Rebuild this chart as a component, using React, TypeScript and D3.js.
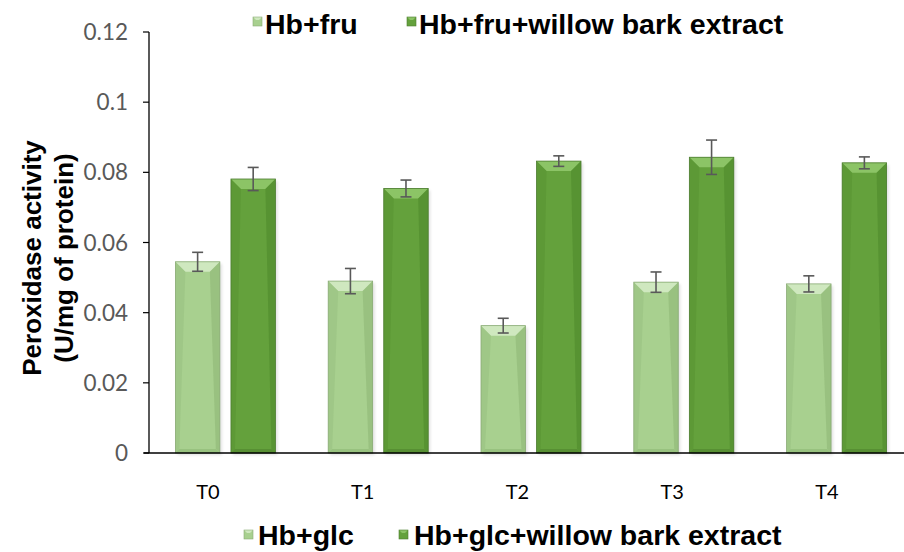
import React from "react";
import * as d3 from "d3";

const categories = ["T0", "T1", "T2", "T3", "T4"];
const seriesNames = ["Hb+glc", "Hb+glc+willow bark extract"];
const topLegendNames = ["Hb+fru", "Hb+fru+willow bark extract"];
const lightValues = [0.0545, 0.049, 0.0363, 0.0487, 0.0482];
const lightErrors = [0.0027, 0.0036, 0.0021, 0.0029, 0.0023];
const darkValues = [0.0781, 0.0754, 0.0832, 0.0843, 0.0827];
const darkErrors = [0.0033, 0.0024, 0.0015, 0.0049, 0.0017];
const yTicks = [0, 0.02, 0.04, 0.06, 0.08, 0.1, 0.12];
const yTickLabels = ["0", "0.02", "0.04", "0.06", "0.08", "0.1", "0.12"];

const W = 904;
const H = 552;

const palettes = [
  { base: "#a8d08f", top: "#cfe8bf", side: "#8fb877", bottom: "#98c27f", edge: "#8aab76" },
  { base: "#64a13c", top: "#8cc466", side: "#4f8a2c", bottom: "#578f33", edge: "#4d7d31" },
];

function Bar({ x, y, w, h, p }: { x: number; y: number; w: number; h: number; p: typeof palettes[0] }) {
  const b = Math.min(10, h / 2);
  const bs = 4;
  return (
    <g>
      <rect x={x + 2} y={y + 2} width={w} height={h} fill="#000" opacity={0.12} filter="url(#blur)" />
      <rect x={x} y={y} width={w} height={h} fill={p.base} />
      <polygon points={`${x},${y} ${x + w},${y} ${x + w - b},${y + b} ${x + b},${y + b}`} fill={p.top} />
      <polygon points={`${x},${y} ${x + b},${y + b} ${x + bs},${y + h - bs} ${x},${y + h}`} fill={p.side} opacity={0.35} />
      <polygon points={`${x + w},${y} ${x + w},${y + h} ${x + w - bs},${y + h - bs} ${x + w - b},${y + b}`} fill={p.side} opacity={0.6} />
      <polygon points={`${x},${y + h} ${x + w},${y + h} ${x + w - bs},${y + h - bs} ${x + bs},${y + h - bs}`} fill={p.bottom} />
      <rect x={x} y={y} width={w} height={h} fill="none" stroke={p.edge} strokeWidth={0.8} />
    </g>
  );
}

function Marker({ x, y, p }: { x: number; y: number; p: typeof palettes[0] }) {
  const s = 9;
  return (
    <g>
      <rect x={x} y={y} width={s} height={s} fill={p.base} />
      <polygon points={`${x},${y} ${x + s},${y} ${x + s - 3},${y + 3} ${x + 3},${y + 3}`} fill={p.top} />
      <rect x={x} y={y} width={s} height={s} fill="none" stroke={p.edge} strokeWidth={0.6} />
    </g>
  );
}

export default function App() {
  const x0 = 149;
  const yScale = d3.scaleLinear().domain([0, 0.12]).range([453, 32]);
  const band = d3.scaleBand().domain(categories).range([x0, x0 + 5 * 152.8]).paddingInner(0).paddingOuter(0);
  const inner = d3.scaleBand().domain(["0", "1"]).range([0, 100]).paddingInner(0.2);
  const groupOffset = (band.bandwidth() - 100) / 2;
  const labelScale = d3.scalePoint().domain(categories).range([208, 827]);
  const bw = inner.bandwidth();
  const series = [
    { values: lightValues, errors: lightErrors, p: palettes[0], key: "0" },
    { values: darkValues, errors: darkErrors, p: palettes[1], key: "1" },
  ];
  const boldFont = { fontFamily: "Liberation Sans, Arial, sans-serif", fontWeight: 700, fill: "#000" };

  return (
    <div style={{ position: "fixed", left: 0, top: 0, width: W, height: H, background: "#fff" }}>
      <svg width={W} height={H} style={{ display: "block" }}>
        <defs>
          <filter id="blur" x="-20%" y="-20%" width="140%" height="140%">
            <feGaussianBlur stdDeviation="1.5" />
          </filter>
        </defs>
        {series.map((s) =>
          categories.map((c, i) => {
            const bx = (band(c) as number) + groupOffset + (inner(s.key) as number);
            const yTop = yScale(s.values[i]);
            return <Bar key={s.key + c} x={bx} y={yTop} w={bw} h={yScale(0) - yTop} p={s.p} />;
          })
        )}
        {series.map((s) =>
          categories.map((c, i) => {
            const cx = (band(c) as number) + groupOffset + (inner(s.key) as number) + bw / 2;
            const y1 = yScale(s.values[i] + s.errors[i]);
            const y2 = yScale(s.values[i] - s.errors[i]);
            return (
              <g key={"e" + s.key + c} stroke="#595959" strokeWidth={1.6}>
                <line x1={cx} x2={cx} y1={y1} y2={y2} />
                <line x1={cx - 5.5} x2={cx + 5.5} y1={y1} y2={y1} />
                <line x1={cx - 5.5} x2={cx + 5.5} y1={y2} y2={y2} />
              </g>
            );
          })
        )}
        <line x1={x0} x2={x0} y1={yScale(0.12)} y2={yScale(0)} stroke="#000" strokeWidth={1.3} />
        <line x1={x0 - 5} x2={W} y1={yScale(0)} y2={yScale(0)} stroke="#000" strokeWidth={1.6} />
        {yTicks.map((t, i) => (
          <g key={"t" + i}>
            <line x1={x0 - 6} x2={x0} y1={yScale(t)} y2={yScale(t)} stroke="#000" strokeWidth={1.2} />
            <text
              x={x0 - 21}
              y={yScale(t)}
              dy="0.36em"
              textAnchor="end"
              fontFamily="Lato, Open Sans, sans-serif"
              fontSize={22.5}
              fill="#595959"
            >
              {yTickLabels[i]}
            </text>
          </g>
        ))}
        {categories.map((c) => (
          <text
            key={"x" + c}
            x={labelScale(c)}
            y={492}
            dy="0.36em"
            textAnchor="middle"
            fontFamily="Lato, Open Sans, sans-serif"
            fontSize={20}
            fill="#000"
          >
            {c}
          </text>
        ))}
        <g transform="translate(32,258) rotate(-90)">
          <text x={0} y={0} dy="0.36em" textAnchor="middle" {...boldFont} fontSize={26}>
            Peroxidase activity
          </text>
          <text x={0} y={32} dy="0.36em" textAnchor="middle" {...boldFont} fontSize={26}>
            (U/mg of protein)
          </text>
        </g>
        <Marker x={253} y={17} p={palettes[0]} />
        <text x={265} y={33.5} {...boldFont} fontSize={28.5}>{topLegendNames[0]}</text>
        <Marker x={407} y={17} p={palettes[1]} />
        <text x={419} y={33.5} {...boldFont} fontSize={28.5}>{topLegendNames[1]}</text>
        <Marker x={244} y={530} p={palettes[0]} />
        <text x={258} y={545} {...boldFont} fontSize={28.5}>{seriesNames[0]}</text>
        <Marker x={399} y={530} p={palettes[1]} />
        <text x={414} y={545} {...boldFont} fontSize={28.5}>{seriesNames[1]}</text>
      </svg>
    </div>
  );
}
